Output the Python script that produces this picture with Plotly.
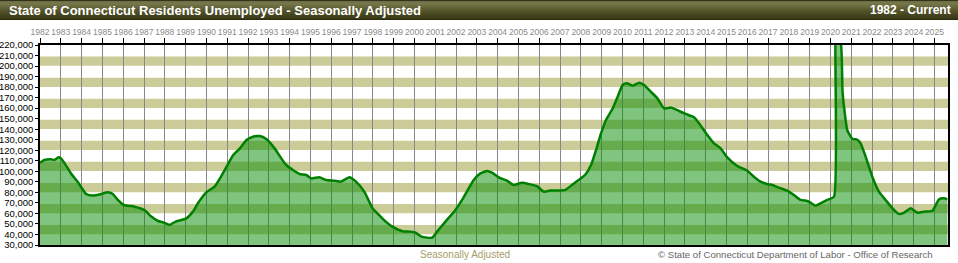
import plotly.graph_objects as go

# ---- data (decimal year, residents unemployed) ----
years = [
    1982.00, 1982.21, 1982.53, 1982.69, 1982.88, 1983.01, 1983.17, 1983.49, 1983.81,
    1984.22, 1984.54, 1984.86, 1985.26, 1985.50, 1985.74, 1986.03, 1986.54, 1987.02,
    1987.35, 1987.67, 1987.96, 1988.23, 1988.50, 1988.79, 1989.03, 1989.35, 1989.59,
    1989.99, 1990.39, 1990.65, 1990.97, 1991.29, 1991.61, 1991.93, 1992.24, 1992.56,
    1992.88, 1993.28, 1993.60, 1993.84, 1994.16, 1994.48, 1994.80, 1995.04, 1995.43,
    1995.75, 1996.15, 1996.47, 1996.87, 1997.19, 1997.59, 1997.99, 1998.30, 1998.62,
    1998.94, 1999.43, 1999.81, 2000.05, 2000.29, 2000.61, 2000.85, 2001.09, 2001.49,
    2001.97, 2002.29, 2002.61, 2002.85, 2003.17, 2003.49, 2003.73, 2004.05, 2004.45,
    2004.77, 2005.17, 2005.57, 2005.89, 2006.21, 2006.53, 2006.85, 2007.25, 2007.57,
    2007.89, 2008.20, 2008.49, 2008.73, 2008.97, 2009.21, 2009.53, 2009.77, 2010.01,
    2010.21, 2010.49, 2010.81, 2011.04, 2011.36, 2011.68, 2012.00, 2012.35, 2012.72,
    2013.04, 2013.44, 2013.68, 2014.00, 2014.40, 2014.72, 2015.04, 2015.52, 2016.00,
    2016.32, 2016.64, 2016.95, 2017.20, 2017.52, 2017.92, 2018.24, 2018.56, 2018.88,
    2019.04, 2019.28, 2019.52, 2019.84, 2020.17, 2020.25, 2020.33, 2020.42, 2020.50,
    2020.58, 2020.67, 2020.81, 2021.05, 2021.29, 2021.45, 2021.69, 2022.01, 2022.33,
    2022.65, 2022.98, 2023.30, 2023.54, 2023.86, 2024.18, 2024.50, 2024.90, 2025.22,
    2025.46, 2025.62,
]
unemployed = [
    108200, 110700, 111400, 110800, 113300, 112300, 108000, 98000, 90000,
    78500, 77000, 78000, 80000, 78500, 72800, 68000, 66400, 63200,
    57000, 52800, 51200, 49000, 52000, 53700, 55300, 61700, 69600,
    80000, 85400, 93300, 104400, 115500, 121800, 129700, 132900, 133500,
    130700, 121800, 112300, 106000, 101200, 97500, 96500, 93300, 94300,
    91800, 91100, 90200, 94300, 90200, 80700, 64800, 58500, 52200,
    47400, 43000, 42700, 41700, 38500, 37000, 37000, 42700, 52200,
    63200, 72800, 83800, 91800, 98000, 100300, 98700, 94300, 91100,
    87000, 89200, 87600, 86000, 80700, 81700, 81700, 82300, 87000,
    91800, 96500, 106000, 120200, 136000, 148800, 159800, 170900, 182000,
    183600, 181400, 184200, 182000, 175700, 169300, 159800, 160500, 157300,
    154500, 151300, 145600, 136700, 126600, 121800, 113300, 105000, 100600,
    94900, 90200, 88000, 87000, 84500, 81600, 77500, 72800, 71800,
    70200, 67400, 69600, 72800, 75900, 226000, 222000, 222000, 221000,
    176000, 158000, 139000, 131000, 130000, 126600, 114000, 95000, 80700,
    72800, 64800, 59400, 60700, 64800, 60700, 61700, 62600, 73400,
    74300, 73400,
]
year_ticks = list(range(1982, 2026))
y_ticks = list(range(30000, 220001, 10000))
band_starts = list(range(40000, 210000, 20000))

title_left = "State of Connecticut Residents Unemployed - Seasonally Adjusted"
title_right = "1982 - Current"
footer_mid = "Seasonally Adjusted"
footer_right = "\u00a9 State of Connecticut Department of Labor - Office of Research"

# ---- geometry helpers (pixels -> paper) ----
W, H = 958, 263
L, R, T, B = 40, 10, 45, 18
PW, PH = W - L - R, H - T - B


def px(x):
    return (x - L) / PW


def py(y):
    return (H - B - y) / PH


fig = go.Figure()
fig.add_trace(go.Scatter(
    x=years, y=unemployed, mode="lines",
    line=dict(color="#008000", width=2.5, shape="spline", smoothing=0.5),
    fill="tozeroy", fillcolor="rgba(0,140,0,0.5)",
    hoverinfo="skip", showlegend=False,
))

shapes = []
for b in band_starts:
    shapes.append(dict(type="rect", xref="paper", yref="y", x0=0, x1=1,
                       y0=b + 200, y1=b + 9000, fillcolor="#CCCC99",
                       line=dict(width=0), layer="below"))

# title bar gradient (stack of 1px strips)
bar_cols = ["#33331a", "#6e6e44", "#74744a", "#76764b", "#737348", "#6e6e43",
            "#69693e", "#646439", "#5f5f34", "#5a5a30", "#56562c", "#525229",
            "#4e4e26", "#4a4a23", "#464620", "#43431e", "#40401c", "#3d3d1a",
            "#3a3a18", "#2a2a10"]
for i, c in enumerate(bar_cols):
    shapes.append(dict(type="rect", xref="paper", yref="paper",
                       x0=px(0), x1=px(W), y0=py(i + 1), y1=py(i),
                       fillcolor=c, line=dict(width=0), layer="above"))

annotations = [
    dict(text="<b>" + title_left + "</b>", xref="paper", yref="paper",
         x=px(7), y=py(10.5), xanchor="left", yanchor="middle", showarrow=False,
         font=dict(family="Liberation Sans, Arial", size=13, color="white")),
    dict(text="<b>" + title_right + "</b>", xref="paper", yref="paper",
         x=px(953), y=py(10.5), xanchor="right", yanchor="middle", showarrow=False,
         font=dict(family="Liberation Sans, Arial", size=12, color="white")),
    dict(text=footer_mid, xref="paper", yref="paper",
         x=px(465), y=py(254), xanchor="center", yanchor="middle", showarrow=False,
         font=dict(family="Liberation Sans, Arial", size=10, color="#A89C68")),
    dict(text=footer_right, xref="paper", yref="paper",
         x=px(935), y=py(254), xanchor="right", yanchor="middle", showarrow=False,
         font=dict(family="Liberation Sans, Arial", size=9.6, color="#666666")),
]

fig.update_layout(
    width=W, height=H,
    margin=dict(l=L, r=R, t=T, b=B, pad=0, autoexpand=False),
    paper_bgcolor="white", plot_bgcolor="white",
    shapes=shapes, annotations=annotations,
    showlegend=False,
    xaxis=dict(
        type="linear", range=[1982, 2025.65], side="top",
        tickmode="array", tickvals=year_ticks, ticktext=[str(y) for y in year_ticks],
        ticks="outside", ticklen=5, tickcolor="black", tickwidth=1, tickangle=0,
        tickfont=dict(family="Liberation Sans, Arial", size=8.5, color="#8a8a8a"),
        showgrid=True, gridcolor="#888888", gridwidth=1,
        showline=True, linecolor="black", linewidth=1.5, mirror=True,
        zeroline=False, fixedrange=True, automargin=False,
    ),
    yaxis=dict(
        range=[30000, 220000],
        tickmode="array", tickvals=y_ticks, ticktext=[f"{v:,}" for v in y_ticks],
        ticks="outside", ticklen=3, tickcolor="black", tickwidth=1,
        tickfont=dict(family="Liberation Sans, Arial", size=9.5, color="black"),
        showgrid=False,
        showline=True, linecolor="black", linewidth=1.5, mirror=True,
        zeroline=False, fixedrange=True, automargin=False,
    ),
)

fig.write_html("out.html")
